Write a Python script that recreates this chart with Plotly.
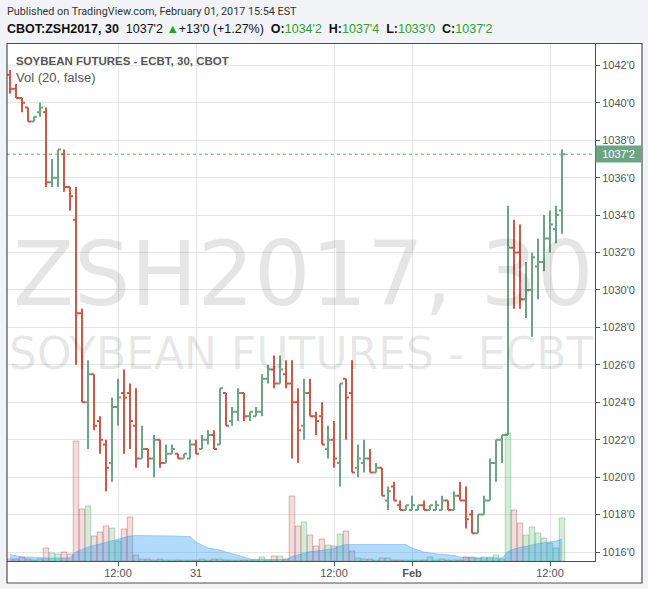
import plotly.graph_objects as go

# ---------------- data ----------------
bar_index = list(range(93))

opens = [1041.5, 1040.75, 1040.25, 1039.75, 1039.0, 1039.5, 1039.5, 1035.75, 1036.0, 1037.25,
         1035.5, 1033.75, 1028.75, 1024.0, 1025.5, 1023.0, 1021.75, 1020.75, 1023.75, 1024.5,
         1024.5, 1022.75, 1021.0, 1021.5, 1021.0, 1022.0, 1020.75, 1021.25, 1021.25, 1021.0,
         1021.0, 1021.75, 1021.5, 1022.0, 1022.25, 1021.75, 1024.5, 1023.0, 1023.5, 1024.5,
         1023.25, 1023.25, 1023.5, 1025.25, 1025.75, 1025.0, 1025.5, 1025.0, 1024.0, 1022.75,
         1024.5, 1023.25, 1023.25, 1021.5, 1022.0, 1020.75, 1025.25, 1024.5, 1020.5, 1020.75,
         1021.0, 1020.25, 1020.5, 1018.75, 1019.5, 1018.5, 1018.25, 1018.25, 1018.25, 1018.5,
         1018.25, 1018.25, 1018.25, 1018.75, 1018.25, 1019.0, 1018.75, 1018.0, 1017.0, 1018.0,
         1018.75, 1020.75, 1022.0, 1022.25, 1032.25, 1032.0, 1029.5, 1030.0, 1031.25, 1031.5,
         1032.75, 1033.25, 1034.25]
highs = [1041.75, 1041.0, 1040.25, 1039.75, 1039.25, 1040.0, 1039.75, 1037.0, 1037.5, 1037.5,
         1035.5, 1035.5, 1029.0, 1026.25, 1025.5, 1023.25, 1022.0, 1024.25, 1025.25, 1025.75,
         1025.0, 1024.75, 1022.75, 1021.5, 1022.25, 1022.0, 1021.75, 1021.75, 1021.25, 1021.25,
         1022.0, 1022.0, 1022.25, 1022.5, 1022.5, 1024.75, 1024.5, 1023.75, 1024.75, 1024.5,
         1023.5, 1023.75, 1025.5, 1026.0, 1026.5, 1026.5, 1026.25, 1026.25, 1024.75, 1025.25,
         1025.25, 1023.5, 1024.0, 1022.75, 1023.0, 1025.0, 1025.25, 1026.25, 1021.75, 1022.0,
         1021.5, 1020.75, 1020.5, 1019.5, 1019.75, 1018.75, 1018.5, 1019.0, 1018.5, 1018.75,
         1018.5, 1018.75, 1019.0, 1018.75, 1019.25, 1019.75, 1019.5, 1018.25, 1018.0, 1019.0,
         1021.0, 1022.0, 1022.25, 1034.5, 1033.75, 1033.5, 1031.5, 1032.0, 1032.75, 1034.0,
         1034.25, 1034.5, 1037.5]
lows = [1040.5, 1040.25, 1039.5, 1039.0, 1039.0, 1039.25, 1035.5, 1035.5, 1035.5, 1035.25,
        1034.25, 1026.0, 1024.0, 1021.5, 1022.5, 1021.25, 1019.25, 1019.75, 1022.75, 1021.25,
        1021.5, 1020.5, 1021.0, 1020.5, 1020.0, 1020.5, 1020.75, 1021.25, 1021.0, 1021.0,
        1021.0, 1021.25, 1021.5, 1021.75, 1021.5, 1021.75, 1022.75, 1022.75, 1023.0, 1023.0,
        1023.0, 1023.25, 1023.25, 1025.0, 1024.75, 1025.0, 1024.75, 1021.0, 1020.75, 1022.0,
        1023.25, 1022.25, 1021.75, 1021.0, 1020.5, 1019.5, 1022.0, 1020.25, 1020.0, 1020.25,
        1020.25, 1020.25, 1019.0, 1018.25, 1018.75, 1018.25, 1018.25, 1018.25, 1018.25, 1018.25,
        1018.25, 1018.25, 1018.25, 1018.25, 1018.25, 1018.75, 1017.25, 1017.0, 1017.0, 1018.0,
        1018.75, 1019.75, 1020.75, 1022.25, 1029.0, 1029.0, 1028.5, 1027.5, 1029.5, 1031.0,
        1032.0, 1032.5, 1033.0]
closes = [1040.75, 1040.25, 1040.0, 1039.0, 1039.25, 1039.75, 1035.75, 1036.0, 1037.5, 1035.5,
          1035.0, 1028.75, 1024.0, 1025.5, 1022.75, 1022.0, 1020.5, 1023.75, 1024.25, 1024.25,
          1023.0, 1021.0, 1021.5, 1021.0, 1022.0, 1020.75, 1021.25, 1021.5, 1021.0, 1021.25,
          1021.75, 1021.25, 1022.0, 1022.25, 1021.5, 1024.75, 1022.75, 1023.5, 1024.5, 1023.25,
          1023.5, 1023.5, 1025.25, 1025.75, 1025.0, 1025.75, 1025.0, 1024.0, 1022.5, 1024.5,
          1023.25, 1023.0, 1021.75, 1022.0, 1021.0, 1025.0, 1024.25, 1020.25, 1021.0, 1021.0,
          1020.25, 1020.5, 1019.0, 1019.25, 1018.75, 1018.25, 1018.5, 1018.5, 1018.5, 1018.25,
          1018.5, 1018.5, 1018.75, 1018.25, 1019.0, 1018.75, 1017.75, 1017.0, 1018.0, 1018.75,
          1020.75, 1022.0, 1022.25, 1032.25, 1032.0, 1029.5, 1030.0, 1031.75, 1031.5, 1032.75,
          1033.5, 1034.0, 1037.25]
volumes = [2, 2, 4, 2, 1, 2, 13, 8, 7, 9,
           7, 120, 52, 55, 25, 29, 35, 33, 20, 32,
           44, 6, 2, 2, 1, 2, 1, 1, 1, 1,
           1, 1, 2, 1, 2, 2, 1, 1, 1, 1,
           1, 1, 4, 1, 5, 5, 2, 65, 35, 39,
           26, 15, 22, 16, 15, 27, 30, 10, 3, 2,
           2, 1, 3, 3, 1, 1, 1, 1, 1, 1,
           4, 1, 2, 1, 1, 1, 4, 4, 3, 4,
           4, 6, 2, 128, 51, 38, 26, 34, 28, 23,
           18, 13, 43]
volume_ma20 = [6.5, 5, 4, 4, 3.5, 3, 3, 3, 3, 3,
               3, 9, 11.5, 14, 15.5, 17, 19, 20.5, 21.5, 23,
               25, 25.5, 25.5, 25.5, 25.5, 25.5, 25, 25, 25, 24.5,
               24.5, 19, 16, 13, 12, 11, 9, 7.5, 6, 4,
               2, 1.5, 1.5, 1.5, 1.5, 1.5, 1.5, 4.5, 6, 8,
               9.5, 10, 11, 12, 12.5, 15, 16.5, 16.5, 16.5, 16.5,
               16.5, 16.5, 16.5, 16.5, 16.5, 16.5, 16.5, 13, 11, 9,
               8, 7.5, 7, 6.5, 5.5, 4, 3.5, 3, 3, 3,
               3, 3, 3, 9.5, 12, 13.5, 14.5, 16, 17.5, 18.5,
               19.5, 20, 22]

price_ticks = [1016, 1018, 1020, 1022, 1024, 1026, 1028, 1030, 1032, 1034, 1036, 1038, 1040, 1042]
time_tick_pos = [18, 31, 54, 67, 90]
time_tick_labels = ["12:00", "31", "12:00", "<b>Feb</b>", "12:00"]

UP = "#6ba583"
DOWN = "#d75442"
AXIS_FONT = "Liberation Sans, Arial, sans-serif"


def fmt_price(p):
    whole = int(p)
    eighths = int(round((p - whole) * 8))
    return f"{whole}'{eighths}"


price_tick_labels = [fmt_price(p) for p in price_ticks]
last_close = closes[-1]

# pixel helpers for layout placement (plot area x 7..595, y 44..561)
def px(xp):
    return (xp - 7) / 588.0


def py(yp):
    return (561 - yp) / 517.0


vol_fill = ["rgba(50,160,70,0.2)" if c >= o else "rgba(180,90,90,0.2)" for o, c in zip(opens, closes)]
vol_line = ["rgba(50,160,70,0.35)" if c >= o else "rgba(170,80,80,0.4)" for o, c in zip(opens, closes)]

fig = go.Figure()

fig.add_trace(go.Ohlc(
    x=bar_index, open=opens, high=highs, low=lows, close=closes,
    xaxis="x", yaxis="y",
    increasing=dict(line=dict(color=UP, width=2)),
    decreasing=dict(line=dict(color=DOWN, width=2)),
    tickwidth=0.5, hoverinfo="skip", showlegend=False,
))

fig.add_trace(go.Bar(
    x=bar_index, y=volumes, xaxis="x", yaxis="y3", width=0.92,
    marker=dict(color=vol_fill, line=dict(color=vol_line, width=1)),
    hoverinfo="skip", showlegend=False,
))

fig.add_trace(go.Scatter(
    x=bar_index, y=volume_ma20, xaxis="x", yaxis="y3", mode="lines",
    fill="tozeroy", fillcolor="rgba(33,150,243,0.35)",
    line=dict(color="rgba(33,150,243,0.35)", width=1),
    hoverinfo="skip", showlegend=False,
))

annotations = [
    # watermark
    dict(text="ZSH2017, 30", x=px(303), y=py(273.5), xref="paper", yref="paper",
         xanchor="center", yanchor="middle", showarrow=False,
         font=dict(family="DejaVu Sans", size=89, color="rgba(0,0,0,0.1)")),
    dict(text="SOYBEAN FUTURES - ECBT", x=px(301), y=py(353.5), xref="paper", yref="paper",
         xanchor="center", yanchor="middle", showarrow=False,
         font=dict(family="DejaVu Sans", size=44, color="rgba(0,0,0,0.1)")),
    # header
    dict(text="Published on TradingView.com, February 01, 2017 15:54 EST",
         x=px(5), y=py(12), xref="paper", yref="paper", xanchor="left", yanchor="middle",
         showarrow=False,
         font=dict(family="Roboto", size=10.8, color="#333333")),
    dict(text=("<b>CBOT:ZSH2017, 30</b>  1037'2 <span style='color:#22a022'>▲</span>+13'0 (+1.27%)  "
               "<b>O:</b><span style='color:#2e9e2e'>1034'2</span>  "
               "<b>H:</b><span style='color:#2e9e2e'>1037'4</span>  "
               "<b>L:</b><span style='color:#2e9e2e'>1033'0</span>  "
               "<b>C:</b><span style='color:#2e9e2e'>1037'2</span>"),
         x=px(5), y=py(29), xref="paper", yref="paper", xanchor="left", yanchor="middle",
         showarrow=False,
         font=dict(family="Liberation Sans, Arial", size=12.5, color="#111111")),
    # legend texts inside the plot
    dict(text="<b>SOYBEAN FUTURES - ECBT, 30, CBOT</b>", x=px(14), y=py(60.5),
         xref="paper", yref="paper", xanchor="left", yanchor="middle", showarrow=False,
         font=dict(family="Liberation Sans, Arial", size=11.5, color="#555555")),
    dict(text="Vol (20, false)", x=px(14), y=py(77), xref="paper", yref="paper",
         xanchor="left", yanchor="middle", showarrow=False,
         font=dict(family="Liberation Sans, Arial", size=13, color="#555555")),
    # last price label
    dict(text=fmt_price(last_close), x=1.0, y=last_close, xref="paper", yref="y",
         xanchor="left", yanchor="middle", showarrow=False, bgcolor=UP, borderpad=2,
         width=41, align="center",
         font=dict(family=AXIS_FONT, size=11, color="#ffffff")),
]

shapes = [
    # white chart panel (under the grid)
    dict(type="rect", xref="paper", yref="paper", x0=px(7), x1=px(642), y0=py(583), y1=py(44),
         fillcolor="#ffffff", line=dict(width=0), layer="below"),
    # outer frame
    dict(type="rect", xref="paper", yref="paper", x0=px(7), x1=px(642), y0=py(583), y1=py(43.5),
         fillcolor="rgba(0,0,0,0)", line=dict(color="#505050", width=1.2), layer="above"),
    # last price dotted line
    dict(type="line", xref="paper", yref="y", x0=0, x1=1, y0=last_close, y1=last_close,
         line=dict(color=UP, width=1, dash="dot"), layer="below"),
]

fig.update_layout(
    width=648, height=589,
    margin=dict(l=7, r=53, t=44, b=28),
    paper_bgcolor="#f1f3f6", plot_bgcolor="#ffffff",
    showlegend=False, hovermode=False, bargap=0,
    xaxis=dict(range=[-0.5, 97.5], tickmode="array", tickvals=time_tick_pos, ticktext=time_tick_labels,
               showgrid=True, gridcolor="#e6e6e6", gridwidth=1, zeroline=False,
               showline=True, linecolor="#505050", linewidth=1,
               ticks="outside", ticklen=4, tickcolor="#505050", ticklabelstandoff=-2,
               tickfont=dict(family=AXIS_FONT, size=11, color="#555555"),
               rangeslider=dict(visible=False), fixedrange=True),
    yaxis=dict(side="right", range=[1015.52, 1043.14], tickmode="array",
               tickvals=price_ticks, ticktext=price_tick_labels,
               showgrid=True, gridcolor="#e6e6e6", gridwidth=1, zeroline=False,
               showline=True, linecolor="#505050", linewidth=1,
               ticks="outside", ticklen=4, tickcolor="#505050",
               tickfont=dict(family=AXIS_FONT, size=11, color="#555555"), fixedrange=True),
    yaxis3=dict(overlaying="y", range=[0, 517], visible=False, fixedrange=True),
    annotations=annotations,
    shapes=shapes,
)

fig.write_html(
    "out.html",
    config={"displayModeBar": False, "staticPlot": True},
    post_script="document.body.style.margin='0';document.body.style.background='#f1f3f6';",
)
